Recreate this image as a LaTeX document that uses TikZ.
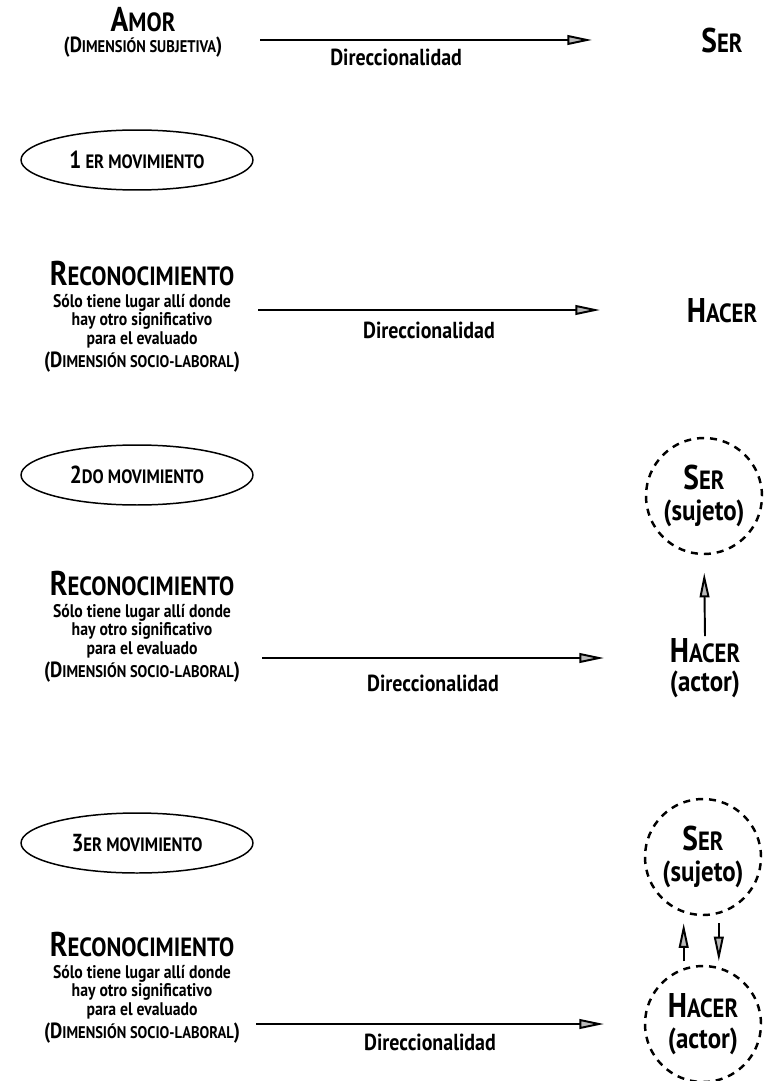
\documentclass[tikz,border=0pt]{standalone}
\usepackage{fontspec}
\setmainfont{PT Sans}[FakeStretch=0.86]
\usetikzlibrary{arrows.meta,positioning,shapes.geometric}

% versalitas hechas a mano
\newcommand{\tsc}[1]{{\fontsize{15}{17}\selectfont #1}}
\newcommand{\ssc}[1]{{\fontsize{9.6}{11}\selectfont #1}}
\newcommand{\msc}[1]{{\fontsize{11}{13}\selectfont #1}}

\begin{document}
\begin{tikzpicture}[x=0.02cm,y=-0.02cm,
    titulo/.style={inner sep=1pt,font=\fontsize{19.5}{22}\selectfont\bfseries},
    subtitulo/.style={inner sep=1pt,font=\fontsize{12.5}{14}\selectfont\bfseries},
    texto/.style={align=center,inner sep=0pt,font=\fontsize{10.4}{9.2}\selectfont\bfseries},
    etiqueta/.style={font=\fontsize{13.2}{15}\selectfont\bfseries},
    flecha/.style={line width=1.1pt,-{Triangle[length=14pt,width=5.5pt,fill=gray!55]}},
    movimiento/.style={draw,ellipse,line width=0.85pt,minimum width=4.64cm,
      minimum height=1.2cm,font=\fontsize{14}{16}\selectfont\bfseries},
    punteado/.style={draw,circle,line width=1.4pt,dash pattern=on 4pt off 3.4pt,
      minimum size=2.32cm,inner sep=0pt,align=center,
      font=\fontsize{16.5}{18}\selectfont\bfseries}]
  \useasboundingbox (0,0) rectangle (764,1081);

  % Amor -> Ser
  \node[titulo] (amor) at (143,20) {A\tsc{MOR}};
  \node[subtitulo] (amorsub) at (143,47) {(D\ssc{IMENSIÓN SUBJETIVA})};
  \node[titulo] (ser1) at (722,41) {S\tsc{ER}};
  \coordinate (ini1) at (260,40);
  \coordinate (fin1) at (592,40);
  \draw[flecha] (ini1) -- node[etiqueta,pos=0.41,below=1pt] {Direccionalidad} (fin1);

  % movimientos
  \node[movimiento] (mov1) at (137,160) {1\,\msc{ER MOVIMIENTO}};
  \node[movimiento] (mov2) at (137,475) {2\msc{DO MOVIMIENTO}};
  \node[movimiento] (mov3) at (137,843) {3\msc{ER MOVIMIENTO}};

  % bloques de reconocimiento
  \foreach \n/\y in {a/274,b/584,c/945}{
    \node[titulo] (rec\n) at (142,\y) {R\tsc{ECONOCIMIENTO}};
    \node[texto,below=3pt of rec\n] (desc\n) {Sólo tiene lugar allí donde\\
      hay otro significativo\\para el evaluado\\[1pt]
      {\fontsize{12.5}{12}\selectfont(D\ssc{IMENSIÓN SOCIO-LABORAL})}};
  }

  % Reconocimiento -> Hacer
  \node[titulo] (hacer1) at (722,311) {H\tsc{ACER}};
  \coordinate (ini2) at (258,310);
  \coordinate (fin2) at (600,310);
  \draw[flecha] (ini2) -- node[etiqueta,below=3pt] {Direccionalidad} (fin2);

  % segundo movimiento
  \node[punteado] (ser2) at (704,496) {{\fontsize{19.5}{20}\selectfont S\tsc{ER}}\\(sujeto)};
  \node[titulo,align=center] (hacer2) at (705,668) {H\tsc{ACER}\\[-5.5pt]
    {\fontsize{16.5}{18}\selectfont(actor)}};
  \coordinate (ini3) at (262,658);
  \coordinate (fin3) at (604,658);
  \draw[flecha] (ini3) -- node[etiqueta,below=6pt] {Direccionalidad} (fin3);
  \draw[flecha] (hacer2.north) -- (ser2.south) [shorten >=10pt];

  % tercer movimiento
  \node[punteado] (ser3) at (703,857) {{\fontsize{19.5}{20}\selectfont S\tsc{ER}}\\(sujeto)};
  \node[punteado] (hacer3) at (703,1024) {{\fontsize{19.5}{20}\selectfont H\tsc{ACER}}\\(actor)};
  \coordinate (ini4) at (256,1024);
  \coordinate (fin4) at (604,1024);
  \draw[flecha] (ini4) -- node[etiqueta,below=2pt] {Direccionalidad} (fin4);
  \draw[flecha,shorten <=2pt,shorten >=4pt] ([xshift=-11pt]hacer3.north) -- ([xshift=-11pt]ser3.south);
  \draw[flecha,shorten <=4pt,shorten >=2pt] ([xshift=9pt]ser3.south) -- ([xshift=9pt]hacer3.north);
\end{tikzpicture}
\end{document}
